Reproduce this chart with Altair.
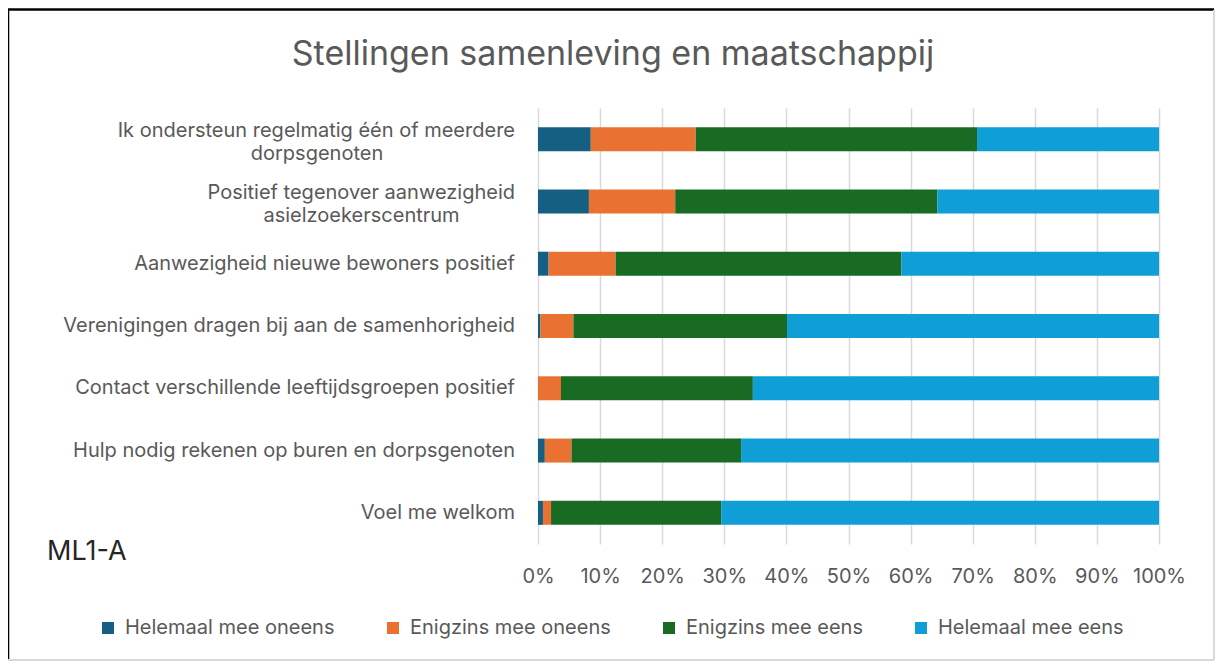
import altair as alt
import pandas as pd

FONT = "Inter"
TXT = "#595959"

categories = [
    "Ik ondersteun regelmatig één of meerdere dorpsgenoten",
    "Positief tegenover aanwezigheid asielzoekerscentrum",
    "Aanwezigheid nieuwe bewoners positief",
    "Verenigingen dragen bij aan de samenhorigheid",
    "Contact verschillende leeftijdsgroepen positief",
    "Hulp nodig rekenen op buren en dorpsgenoten",
    "Voel me welkom",
]
label_line1 = [
    "Ik ondersteun regelmatig één of meerdere",
    "Positief tegenover aanwezigheid",
    "Aanwezigheid nieuwe bewoners positief",
    "Verenigingen dragen bij aan de samenhorigheid",
    "Contact verschillende leeftijdsgroepen positief",
    "Hulp nodig rekenen op buren en dorpsgenoten",
    "Voel me welkom",
]
label_line2 = ["dorpsgenoten", "asielzoekerscentrum", "", "", "", "", ""]

series = ["Helemaal mee oneens", "Enigzins mee oneens", "Enigzins mee eens", "Helemaal mee eens"]
colors = ["#156082", "#E97132", "#196B24", "#0F9ED5"]

helemaal_oneens = [8.5, 8.2, 1.7, 0.4, 0.0, 1.1, 0.8]
enigzins_oneens = [16.9, 13.9, 10.8, 5.3, 3.7, 4.3, 1.3]
enigzins_eens = [45.3, 42.2, 46.0, 34.4, 30.9, 27.3, 27.4]
helemaal_eens = [29.3, 35.7, 41.5, 59.9, 65.4, 67.3, 70.5]

x_ticks = [0, 0.1, 0.2, 0.3, 0.4, 0.5, 0.6, 0.7, 0.8, 0.9, 1.0]
corner_note = "ML1-A"
chart_title = "Stellingen samenleving en maatschappij"

rows = []
for s_i, (s, vals) in enumerate(zip(series, [helemaal_oneens, enigzins_oneens, enigzins_eens, helemaal_eens])):
    for c, v in zip(categories, vals):
        rows.append({"category": c, "series": s, "value": v, "order": s_i})
df = pd.DataFrame(rows)

labels_df = pd.DataFrame({"category": categories, "line1": label_line1, "line2": label_line2})

LBL = 20

y_enc = alt.Y("category:N", sort=categories,
              scale=alt.Scale(paddingInner=0.615, paddingOuter=0.3075), axis=None)

bars = alt.Chart(df).mark_bar().encode(
    x=alt.X("value:Q", stack="normalize", title=None,
            scale=alt.Scale(domain=[0, 1], nice=False),
            axis=alt.Axis(format="%", values=x_ticks, grid=True, gridColor="#D9D9D9", gridWidth=1.5,
                          domain=False, ticks=False, tickSize=0, labelPadding=22,
                          labelOverlap=False, labelFlush=False,
                          labelFont=FONT, labelFontSize=LBL, labelColor=TXT)),
    y=y_enc,
    color=alt.Color("series:N", sort=series,
                    scale=alt.Scale(domain=series, range=colors),
                    legend=alt.Legend(title=None, orient="none", legendX=-440, legendY=510,
                                      direction="horizontal", columns=4,
                                      symbolType="square", symbolSize=144, symbolStrokeWidth=0,
                                      labelFont=FONT, labelFontSize=LBL, labelColor=TXT,
                                      labelLimit=0, labelOffset=7, columnPadding=48)),
    order=alt.Order("order:Q"),
)

single = alt.Chart(labels_df).transform_filter("datum.line2 == ''").mark_text(
    align="right", baseline="middle", font=FONT, fontSize=LBL, color=TXT
).encode(y=y_enc, x=alt.value(-23), text="line1:N")

first = alt.Chart(labels_df).transform_filter("datum.line2 != ''").mark_text(
    align="right", baseline="middle", font=FONT, fontSize=LBL, color=TXT, dy=-8
).encode(y=y_enc, x=alt.value(-23), text="line1:N")

second = alt.Chart(labels_df).transform_filter("datum.line2 != ''").transform_calculate(
    cx="-23 - length(datum.line1) * 4.95"
).mark_text(
    align="center", baseline="middle", font=FONT, fontSize=LBL, color=TXT, dy=15
).encode(y=y_enc, x=alt.X("cx:Q", scale=None, axis=None), text="line2:N")

dummy = pd.DataFrame({"k": [0]})

title_mark = alt.Chart(dummy).mark_text(
    align="center", baseline="middle", font=FONT, fontSize=34, color=TXT
).encode(x=alt.value(75), y=alt.value(-53), text=alt.value(chart_title))

note_mark = alt.Chart(dummy).mark_text(
    align="left", baseline="middle", font=FONT, fontSize=27, color="#262626"
).encode(x=alt.value(-491), y=alt.value(444), text=alt.value(corner_note))

top_line = alt.Chart(dummy).mark_rule(color="black", strokeWidth=2.5).encode(
    x=alt.value(-530), x2=alt.value(676), y=alt.value(-98.5), y2=alt.value(-98.5))
left_line = alt.Chart(dummy).mark_rule(color="black", strokeWidth=2.5).encode(
    x=alt.value(-530), x2=alt.value(-530), y=alt.value(-99), y2=alt.value(552))
right_line = alt.Chart(dummy).mark_rule(color="#D9D9D9", strokeWidth=2).encode(
    x=alt.value(676), x2=alt.value(676), y=alt.value(-98), y2=alt.value(552))
bottom_line = alt.Chart(dummy).mark_rule(color="#D9D9D9", strokeWidth=2).encode(
    x=alt.value(-530), x2=alt.value(676), y=alt.value(552), y2=alt.value(552))

chart = alt.layer(
    bars, single, first, second, title_mark, note_mark,
    top_line, left_line, right_line, bottom_line
).properties(
    width=621, height=436,
    autosize=alt.AutoSizeParams(type="none"),
    padding={"left": 530, "top": 100, "right": 56, "bottom": 118},
    background="white",
).configure_view(stroke=None)

chart.save("out.html", embed_options={"renderer": "svg", "actions": False})
